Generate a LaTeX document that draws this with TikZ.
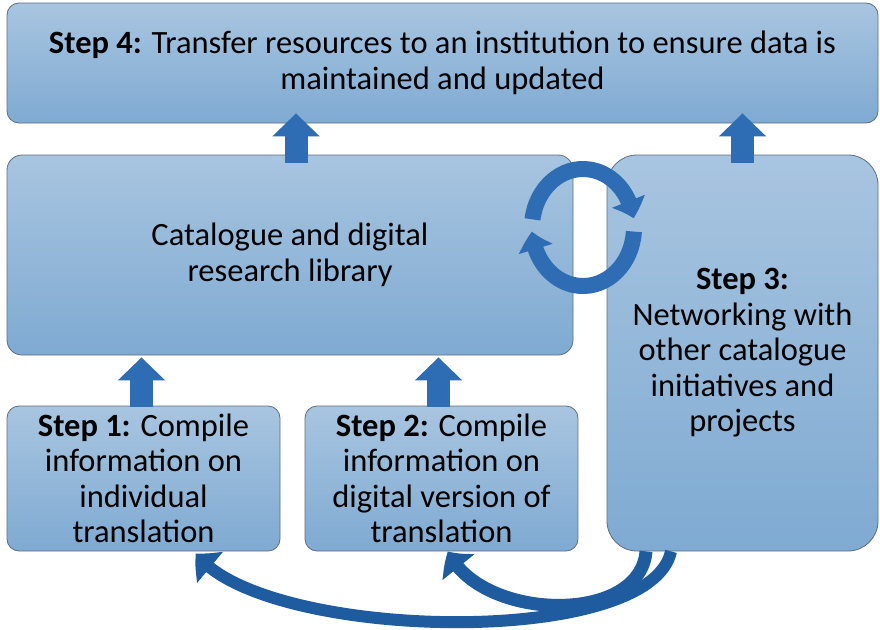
\documentclass[tikz,border=0pt]{standalone}
\usepackage{fontspec}
\setmainfont{Carlito}
\usetikzlibrary{arrows.meta,bending}
\definecolor{boxtop}{HTML}{A8C5E0}
\definecolor{boxbot}{HTML}{7FAAD2}
\definecolor{boxline}{HTML}{5E6E80}
\definecolor{arrowblue}{HTML}{2E6CB3}
\definecolor{bandblue}{HTML}{1F5B9F}
\tikzset{
  stepbox/.style={draw=boxline, line width=0.8pt, rounded corners=12pt,
    top color=boxtop, bottom color=boxbot, align=center, inner sep=0pt,
    font=\fontsize{32.5}{35.5}\selectfont},
  uparrow/.style={draw=arrowblue, line width=23pt, -{Triangle[length=23pt,width=46pt]}},
  cyclearrow/.style={draw=arrowblue, line width=16pt, -{Triangle[bend,length=18pt,width=34pt]}},
  bandarrow/.style={draw=bandblue, -{Triangle[bend,length=19pt,width=40pt]}},
}

\begin{document}
\begin{tikzpicture}[x=1pt,y=-1pt]
    \useasboundingbox (0,0) rectangle (880,629);
    \node[stepbox, minimum width=871pt, minimum height=120pt] (step4) at (442.5,63)
        {\textbf{Step 4:} Transfer resources to an institution to ensure data is\\maintained and updated};
    \node[stepbox, rounded corners=15pt, minimum width=566pt, minimum height=200pt] (cat) at (290,255)
        {Catalogue and digital\\research library};
    \node[stepbox, rounded corners=30pt, minimum width=271pt, minimum height=396pt] (step3) at (742.5,353)
        {\textbf{Step 3:}\\Networking with\\other catalogue\\initiatives and\\projects};
    \node[stepbox, minimum width=273pt, minimum height=145pt] (step1) at (143.5,478.5)
        {\textbf{Step 1:} Compile\\information on\\individual\\translation};
    \node[stepbox, minimum width=273pt, minimum height=145pt] (step2) at (441.5,478.5)
        {\textbf{Step 2:} Compile\\information on\\digital version of\\translation};
    \draw[uparrow] ([xshift=6pt,yshift=-8pt]cat.north) -- ([xshift=6pt,yshift=10pt]cat.north |- step4.south);
    \draw[uparrow] ([yshift=-8pt]step3.north) -- ([yshift=10pt]step3.north |- step4.south);
    \draw[uparrow] ([xshift=-2pt,yshift=-1pt]step1.north) -- ([xshift=-2pt,yshift=-2pt]step1.north |- cat.south);
    \draw[uparrow] ([xshift=-3pt,yshift=-1pt]step2.north) -- ([xshift=-3pt,yshift=-2pt]step2.north |- cat.south);
    \coordinate (cyc) at (583,227.5);
    \draw[cyclearrow] (cyc) ++(188:51 and 58.5) arc[start angle=188, end angle=351, x radius=51, y radius=58.5];
    \draw[cyclearrow] (cyc) ++(4:51 and 58.5) arc[start angle=4, end angle=176, x radius=51, y radius=58.5];
    \draw[bandarrow, line width=12pt] ([xshift=-71.5pt]step3.south) .. controls +(-21,99) and +(64,87) .. ([xshift=52.5pt,yshift=-2pt]step1.south);
    \draw[bandarrow, line width=13pt] ([xshift=-96.5pt]step3.south) .. controls +(-6,74) and +(32,70) .. ([xshift=6.5pt]step2.south);
\end{tikzpicture}
\end{document}
